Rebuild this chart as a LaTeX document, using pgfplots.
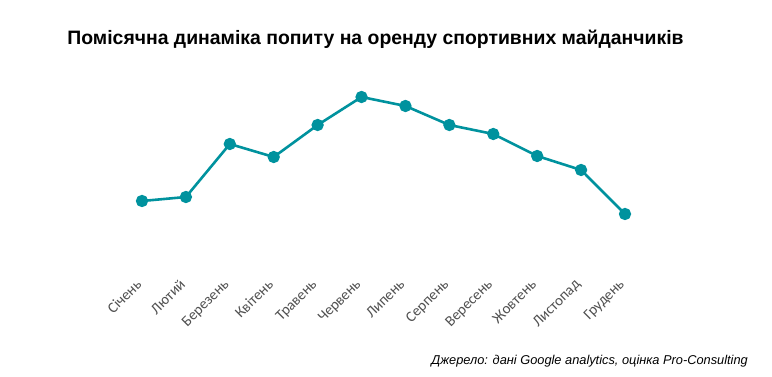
\documentclass[border=0pt]{standalone}
\usepackage{pgfplots}
\pgfplotsset{compat=1.18}
\usepackage{fontspec}
\setmainfont{Liberation Sans}
\newfontfamily\calib{Carlito}
\definecolor{teal1}{RGB}{0,146,158}
\definecolor{lblgray}{RGB}{80,80,80}
\begin{document}
\begin{tikzpicture}[x=1pt,y=1pt]
\useasboundingbox (0,0) rectangle (772,377);
\node[anchor=base, font=\bfseries\fontsize{19.4}{21}\selectfont, inner sep=0pt] at (375.5,332) {Помісячна динаміка попиту на оренду спортивних майданчиків};
\node[anchor=base east, font=\itshape\fontsize{12.8}{14}\selectfont, inner sep=0pt] at (748,12) {Джерело: дані Google analytics, оцінка Pro-Consulting};
\begin{axis}[
  at={(142pt,109pt)}, anchor=south west,
  scale only axis, width=483pt, height=268pt,
  xmin=0, xmax=11, ymin=109, ymax=377,
  axis line style={draw=none},
  ytick=\empty,
  xtick={0,...,11},
  xticklabels={Січень,Лютий,Березень,Квітень,Травень,Червень,Липень,Серпень,Вересень,Жовтень,Листопад,Грудень},
  major tick length=0pt,
  xticklabel style={xshift=-7pt, yshift=-10pt, rotate=45, anchor=north east, font=\calib\fontsize{15}{16}\selectfont, text=lblgray, inner sep=0pt},
  clip=false,
]
\addplot[teal1, line width=2.6pt, mark=*, mark size=4.8pt, mark options={solid, fill=teal1, draw=none}]
coordinates {(0,176) (1,180) (2,233) (3,220) (4,252) (5,280) (6,271) (7,252) (8,243) (9,221) (10,207) (11,163)};
\end{axis}
\end{tikzpicture}
\end{document}
